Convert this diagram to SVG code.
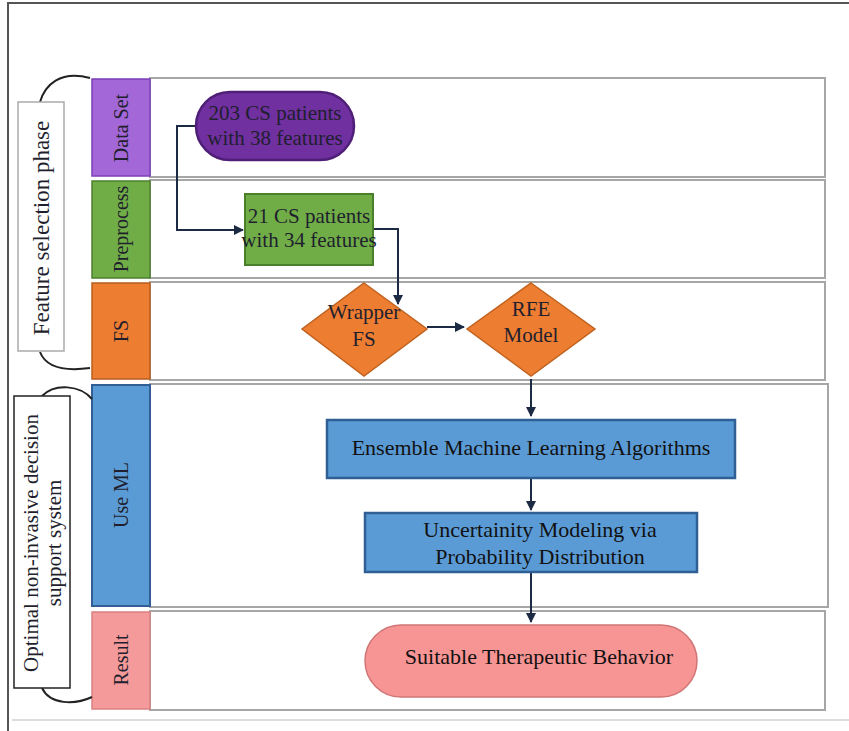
<svg xmlns="http://www.w3.org/2000/svg" width="849" height="731" viewBox="0 0 849 731">
<defs>
<style>
text{font-family:"Liberation Serif","Times New Roman",serif;fill:#1f1f2e;}
.lane{fill:#fff;stroke:#a6a6a6;stroke-width:2;}
.lbl{font-size:20px;text-anchor:middle;}
.nt{font-size:21px;text-anchor:middle;}
.bt{font-size:22px;text-anchor:middle;fill:#111;}
.brace{fill:none;stroke:#222;stroke-width:2;}
.conn{fill:none;stroke:#1d2a44;stroke-width:2;}
</style>
<marker id="ah" viewBox="0 0 10 10" refX="9" refY="5" markerWidth="5" markerHeight="5" orient="auto"><path d="M0,0 L10,5 L0,10 z" fill="#1d2a44"/></marker>
</defs>
<rect width="849" height="731" fill="#fff"/>
<g id="frame">
<path d="M8,731 V3 H849" fill="none" stroke="#555" stroke-width="2"/>
<line x1="12" y1="720" x2="849" y2="720" stroke="#ddd" stroke-width="2"/>
</g>
<g id="lanes">
<rect class="lane" x="150" y="78" width="675" height="99"/>
<rect class="lane" x="150" y="180" width="675" height="98"/>
<rect class="lane" x="150" y="282" width="675" height="98"/>
<rect class="lane" x="150" y="384" width="678" height="223"/>
<rect class="lane" x="150" y="611" width="675" height="99"/>
</g>
<g id="lane-dataset"><rect x="92" y="79" width="58" height="97" fill="#a367d8" stroke="#7e3fb8" stroke-width="1.5"/><text class="lbl" transform="translate(128,128) rotate(-90)">Data Set</text></g>
<g id="lane-preprocess"><rect x="92" y="181" width="58" height="97" fill="#70ad47" stroke="#4e7f2e" stroke-width="1.5"/><text class="lbl" transform="translate(128,229) rotate(-90)">Preprocess</text></g>
<g id="lane-fs"><rect x="92" y="283" width="58" height="96" fill="#ed7d31" stroke="#b85d1e" stroke-width="1.5"/><text class="lbl" transform="translate(128,331) rotate(-90)">FS</text></g>
<g id="lane-useml"><rect x="92" y="385" width="58" height="221" fill="#5b9bd5" stroke="#2f5f95" stroke-width="2"/><text class="lbl" transform="translate(128,495) rotate(-90)">Use ML</text></g>
<g id="lane-result"><rect x="92" y="612" width="58" height="97" fill="#f59a9a" stroke="#d98080" stroke-width="1.5"/><text class="lbl" transform="translate(128,660) rotate(-90)">Result</text></g>
<g id="phase-fs">
<path class="brace" d="M90,78 C60,70 45,85 40,102"/>
<path class="brace" d="M40,352 C45,365 60,372 90,368"/>
<rect x="18" y="102" width="46" height="249" fill="#fff" stroke="#aaa" stroke-width="1.5"/>
<text font-size="23" text-anchor="middle" transform="translate(49,228) rotate(-90)">Feature selection phase</text>
</g>
<g id="phase-dss">
<path class="brace" d="M92,399 C80,385 55,383 42,396"/>
<path class="brace" d="M42,688 C50,705 75,705 92,697"/>
<rect x="14" y="396" width="56" height="292" fill="#fff" stroke="#222" stroke-width="1.5"/>
<text font-size="21" text-anchor="middle" transform="translate(38,543) rotate(-90)">Optimal non-invasive decision</text>
<text font-size="21" text-anchor="middle" transform="translate(61,543) rotate(-90)">support system</text>
</g>
<g id="connectors">
<path class="conn" d="M196,126 H177 V230 H243" marker-end="url(#ah)"/>
<path class="conn" d="M373,229 H398 V304" marker-end="url(#ah)"/>
<path class="conn" d="M427,327 H464" marker-end="url(#ah)"/>
<path class="conn" d="M531,379 V416" marker-end="url(#ah)"/>
<path class="conn" d="M531,478 V510" marker-end="url(#ah)"/>
<path class="conn" d="M531,572 V622" marker-end="url(#ah)"/>
</g>
<g id="n-dataset"><rect x="196" y="92" width="158" height="68" rx="34" fill="#7030a0" stroke="#4f1f78" stroke-width="2.5"/><text class="nt" x="275" y="120" fill="#1c1030">203 CS patients</text><text class="nt" x="275" y="145" fill="#1c1030">with 38 features</text></g>
<g id="n-preprocess"><rect x="245" y="194" width="128" height="71" fill="#70ad47" stroke="#4a7f2b" stroke-width="2"/><text class="nt" x="309" y="223">21 CS patients</text><text class="nt" x="309" y="247">with 34 features</text></g>
<g id="n-wrapper"><polygon points="364,283 427,329 364,376 302,329" fill="#ed7d31" stroke="#c0621f" stroke-width="1.5"/><text class="nt" x="364" y="319" font-size="18">Wrapper</text><text class="nt" x="364" y="346" font-size="18">FS</text></g>
<g id="n-rfe"><polygon points="531,283 595,329 531,376 467,329" fill="#ed7d31" stroke="#c0621f" stroke-width="1.5"/><text class="nt" x="531" y="316" font-size="18">RFE</text><text class="nt" x="531" y="342" font-size="18">Model</text></g>
<g id="n-ensemble"><rect x="327" y="420" width="408" height="58" fill="#5b9bd5" stroke="#2f5f95" stroke-width="2.5"/><text class="bt" x="531" y="455">Ensemble Machine Learning Algorithms</text></g>
<g id="n-uncertainty"><rect x="365" y="513" width="332" height="59" fill="#5b9bd5" stroke="#2f5f95" stroke-width="2.5"/><text class="bt" x="540" y="537">Uncertainity Modeling via</text><text class="bt" x="540" y="564">Probability Distribution</text></g>
<g id="n-result"><rect x="365" y="625" width="332" height="72" rx="36" fill="#f79494" stroke="#d07575" stroke-width="1.5"/><text class="bt" x="539" y="664">Suitable Therapeutic Behavior</text></g>
</svg>
